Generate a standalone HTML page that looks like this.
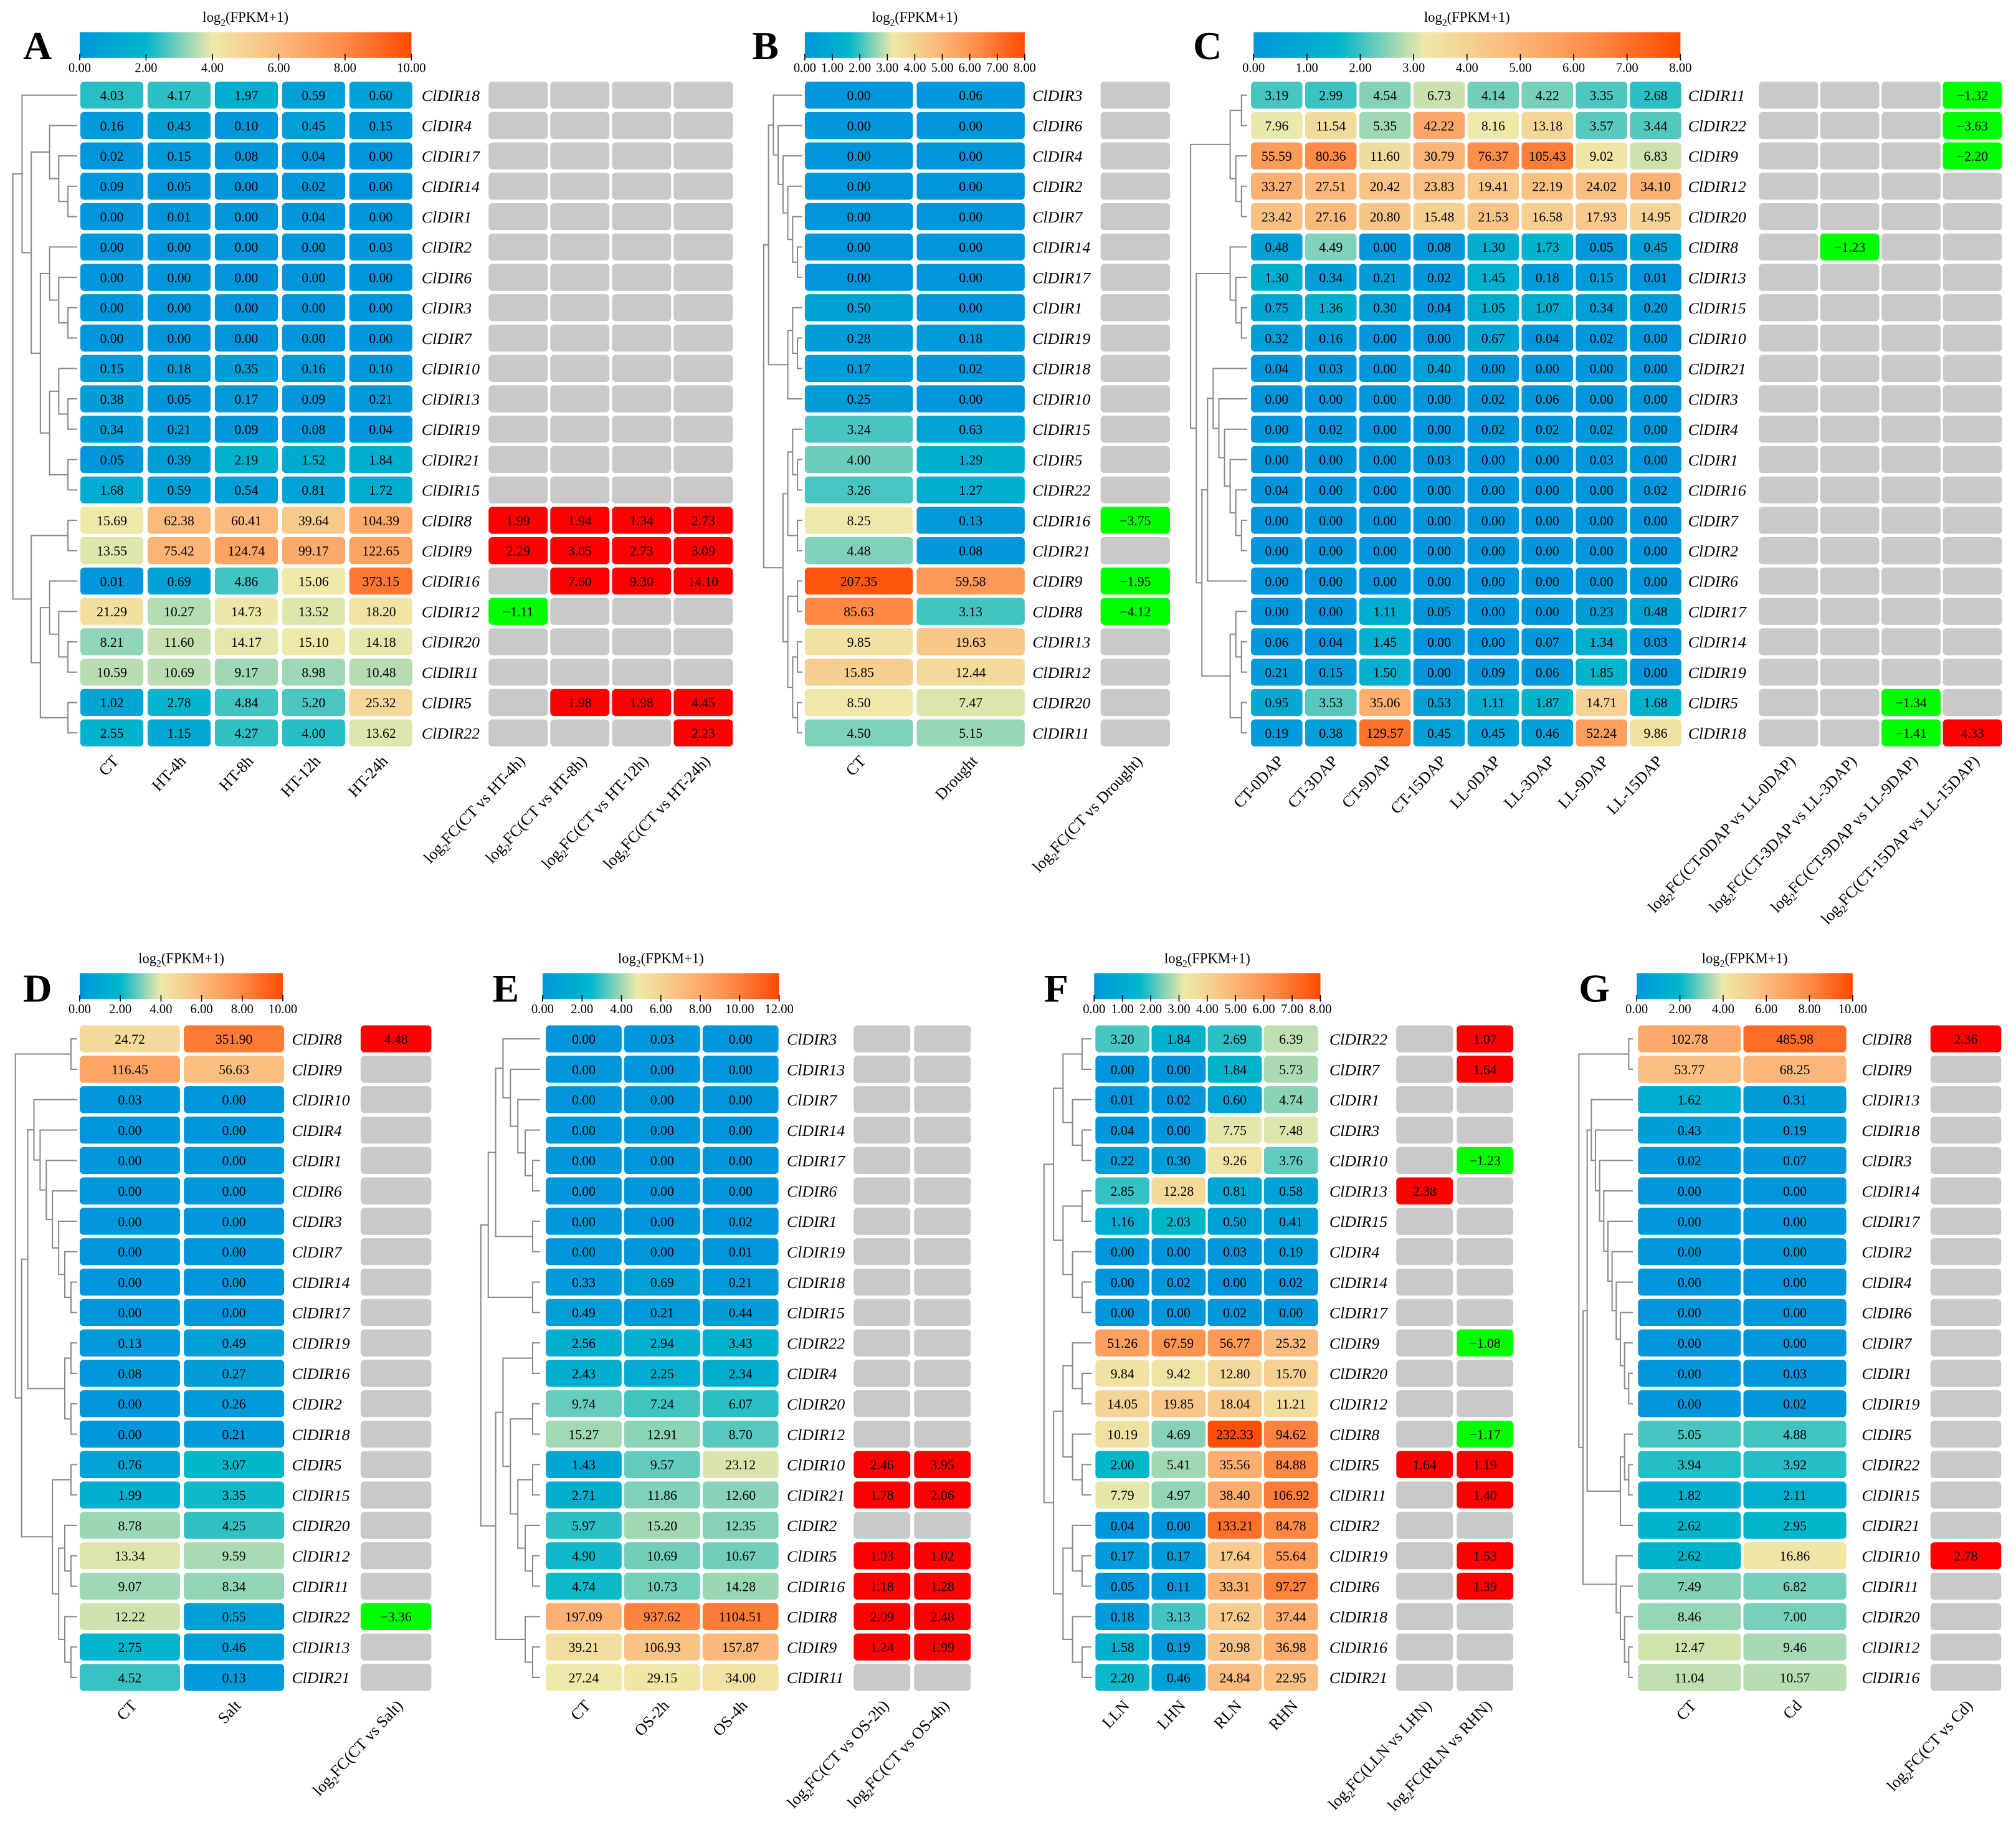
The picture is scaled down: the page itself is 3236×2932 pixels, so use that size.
<!DOCTYPE html>
<html><head><meta charset="utf-8"><style>html,body{margin:0;padding:0;background:#fff}svg{display:block}</style></head>
<body>
<svg id="fig" xmlns="http://www.w3.org/2000/svg" width="3236" height="2932" viewBox="0 0 1568 1421" preserveAspectRatio="none" font-family="'Liberation Serif', serif">
<defs>
<linearGradient id="cmap" x1="0" x2="1" y1="0" y2="0">
<stop offset="0" stop-color="#0096db"/><stop offset="0.2" stop-color="#00b6cb"/><stop offset="0.4" stop-color="#efe9a9"/><stop offset="0.6" stop-color="#fbba7c"/><stop offset="0.8" stop-color="#fe8a46"/><stop offset="1" stop-color="#ff4a00"/>
</linearGradient>
</defs>
</svg>
<script>
// ---------- data ----------
const genesA=["ClDIR18","ClDIR4","ClDIR17","ClDIR14","ClDIR1","ClDIR2","ClDIR6","ClDIR3","ClDIR7","ClDIR10","ClDIR13","ClDIR19","ClDIR21","ClDIR15","ClDIR8","ClDIR9","ClDIR16","ClDIR12","ClDIR20","ClDIR11","ClDIR5","ClDIR22"];
const condsA=["CT","HT-4h","HT-8h","HT-12h","HT-24h"];
const valsA=[[4.03,4.17,1.97,0.59,0.60],[0.16,0.43,0.10,0.45,0.15],[0.02,0.15,0.08,0.04,0],[0.09,0.05,0,0.02,0],[0,0.01,0,0.04,0],[0,0,0,0,0.03],[0,0,0,0,0],[0,0,0,0,0],[0,0,0,0,0],[0.15,0.18,0.35,0.16,0.10],[0.38,0.05,0.17,0.09,0.21],[0.34,0.21,0.09,0.08,0.04],[0.05,0.39,2.19,1.52,1.84],[1.68,0.59,0.54,0.81,1.72],[15.69,62.38,60.41,39.64,104.39],[13.55,75.42,124.74,99.17,122.65],[0.01,0.69,4.86,15.06,373.15],[21.29,10.27,14.73,13.52,18.20],[8.21,11.60,14.17,15.10,14.18],[10.59,10.69,9.17,8.98,10.48],[1.02,2.78,4.84,5.20,25.32],[2.55,1.15,4.27,4.00,13.62]];
const fcLabelsA=["(CT vs HT-4h)","(CT vs HT-8h)","(CT vs HT-12h)","(CT vs HT-24h)"];
const fcA={14:[1.99,1.94,1.34,2.73],15:[2.29,3.05,2.73,3.09],16:[null,7.60,9.30,14.10],17:[-1.11,null,null,null],20:[null,1.98,1.98,4.45],21:[null,null,null,2.23]};

const genesB=["ClDIR3","ClDIR6","ClDIR4","ClDIR2","ClDIR7","ClDIR14","ClDIR17","ClDIR1","ClDIR19","ClDIR18","ClDIR10","ClDIR15","ClDIR5","ClDIR22","ClDIR16","ClDIR21","ClDIR9","ClDIR8","ClDIR13","ClDIR12","ClDIR20","ClDIR11"];
const condsB=["CT","Drought"];
const valsB=[[0,0.06],[0,0],[0,0],[0,0],[0,0],[0,0],[0,0],[0.50,0],[0.28,0.18],[0.17,0.02],[0.25,0],[3.24,0.63],[4.00,1.29],[3.26,1.27],[8.25,0.13],[4.48,0.08],[207.35,59.58],[85.63,3.13],[9.85,19.63],[15.85,12.44],[8.50,7.47],[4.50,5.15]];
const fcLabelsB=["(CT vs Drought)"];
const fcB={14:[-3.75],16:[-1.95],17:[-4.12]};

const genesC=["ClDIR11","ClDIR22","ClDIR9","ClDIR12","ClDIR20","ClDIR8","ClDIR13","ClDIR15","ClDIR10","ClDIR21","ClDIR3","ClDIR4","ClDIR1","ClDIR16","ClDIR7","ClDIR2","ClDIR6","ClDIR17","ClDIR14","ClDIR19","ClDIR5","ClDIR18"];
const condsC=["CT-0DAP","CT-3DAP","CT-9DAP","CT-15DAP","LL-0DAP","LL-3DAP","LL-9DAP","LL-15DAP"];
const valsC=[[3.19,2.99,4.54,6.73,4.14,4.22,3.35,2.68],[7.96,11.54,5.35,42.22,8.16,13.18,3.57,3.44],[55.59,80.36,11.60,30.79,76.37,105.43,9.02,6.83],[33.27,27.51,20.42,23.83,19.41,22.19,24.02,34.10],[23.42,27.16,20.80,15.48,21.53,16.58,17.93,14.95],[0.48,4.49,0,0.08,1.30,1.73,0.05,0.45],[1.30,0.34,0.21,0.02,1.45,0.18,0.15,0.01],[0.75,1.36,0.30,0.04,1.05,1.07,0.34,0.20],[0.32,0.16,0,0,0.67,0.04,0.02,0],[0.04,0.03,0,0.40,0,0,0,0],[0,0,0,0,0.02,0.06,0,0],[0,0.02,0,0,0.02,0.02,0.02,0],[0,0,0,0.03,0,0,0.03,0],[0.04,0,0,0,0,0,0,0.02],[0,0,0,0,0,0,0,0],[0,0,0,0,0,0,0,0],[0,0,0,0,0,0,0,0],[0,0,1.11,0.05,0,0,0.23,0.48],[0.06,0.04,1.45,0,0,0.07,1.34,0.03],[0.21,0.15,1.50,0,0.09,0.06,1.85,0],[0.95,3.53,35.06,0.53,1.11,1.87,14.71,1.68],[0.19,0.38,129.57,0.45,0.45,0.46,52.24,9.86]];
const fcLabelsC=["(CT-0DAP vs LL-0DAP)","(CT-3DAP vs LL-3DAP)","(CT-9DAP vs LL-9DAP)","(CT-15DAP vs LL-15DAP)"];
const fcC={0:[null,null,null,-1.32],1:[null,null,null,-3.63],2:[null,null,null,-2.20],5:[null,-1.23,null,null],20:[null,null,-1.34,null],21:[null,null,-1.41,4.33]};

const genesD=["ClDIR8","ClDIR9","ClDIR10","ClDIR4","ClDIR1","ClDIR6","ClDIR3","ClDIR7","ClDIR14","ClDIR17","ClDIR19","ClDIR16","ClDIR2","ClDIR18","ClDIR5","ClDIR15","ClDIR20","ClDIR12","ClDIR11","ClDIR22","ClDIR13","ClDIR21"];
const condsD=["CT","Salt"];
const valsD=[[24.72,351.90],[116.45,56.63],[0.03,0],[0,0],[0,0],[0,0],[0,0],[0,0],[0,0],[0,0],[0.13,0.49],[0.08,0.27],[0,0.26],[0,0.21],[0.76,3.07],[1.99,3.35],[8.78,4.25],[13.34,9.59],[9.07,8.34],[12.22,0.55],[2.75,0.46],[4.52,0.13]];
const fcLabelsD=["(CT vs Salt)"];
const fcD={0:[4.48],19:[-3.36]};

const genesE=["ClDIR3","ClDIR13","ClDIR7","ClDIR14","ClDIR17","ClDIR6","ClDIR1","ClDIR19","ClDIR18","ClDIR15","ClDIR22","ClDIR4","ClDIR20","ClDIR12","ClDIR10","ClDIR21","ClDIR2","ClDIR5","ClDIR16","ClDIR8","ClDIR9","ClDIR11"];
const condsE=["CT","OS-2h","OS-4h"];
const valsE=[[0,0.03,0],[0,0,0],[0,0,0],[0,0,0],[0,0,0],[0,0,0],[0,0,0.02],[0,0,0.01],[0.33,0.69,0.21],[0.49,0.21,0.44],[2.56,2.94,3.43],[2.43,2.25,2.34],[9.74,7.24,6.07],[15.27,12.91,8.70],[1.43,9.57,23.12],[2.71,11.86,12.60],[5.97,15.20,12.35],[4.90,10.69,10.67],[4.74,10.73,14.28],[197.09,937.62,1104.51],[39.21,106.93,157.87],[27.24,29.15,34.00]];
const fcLabelsE=["(CT vs OS-2h)","(CT vs OS-4h)"];
const fcE={14:[2.46,3.95],15:[1.78,2.06],17:[1.03,1.02],18:[1.18,1.28],19:[2.09,2.48],20:[1.24,1.99]};

const genesF=["ClDIR22","ClDIR7","ClDIR1","ClDIR3","ClDIR10","ClDIR13","ClDIR15","ClDIR4","ClDIR14","ClDIR17","ClDIR9","ClDIR20","ClDIR12","ClDIR8","ClDIR5","ClDIR11","ClDIR2","ClDIR19","ClDIR6","ClDIR18","ClDIR16","ClDIR21"];
const condsF=["LLN","LHN","RLN","RHN"];
const valsF=[[3.20,1.84,2.69,6.39],[0,0,1.84,5.73],[0.01,0.02,0.60,4.74],[0.04,0,7.75,7.48],[0.22,0.30,9.26,3.76],[2.85,12.28,0.81,0.58],[1.16,2.03,0.50,0.41],[0,0,0.03,0.19],[0,0.02,0,0.02],[0,0,0.02,0],[51.26,67.59,56.77,25.32],[9.84,9.42,12.80,15.70],[14.05,19.85,18.04,11.21],[10.19,4.69,232.33,94.62],[2.00,5.41,35.56,84.88],[7.79,4.97,38.40,106.92],[0.04,0,133.21,84.78],[0.17,0.17,17.64,55.64],[0.05,0.11,33.31,97.27],[0.18,3.13,17.62,37.44],[1.58,0.19,20.98,36.98],[2.20,0.46,24.84,22.95]];
const fcLabelsF=["(LLN vs LHN)","(RLN vs RHN)"];
const fcF={0:[null,1.07],1:[null,1.64],4:[null,-1.23],5:[2.38,null],10:[null,-1.08],13:[null,-1.17],14:[1.64,1.19],15:[null,1.40],17:[null,1.53],18:[null,1.39]};

const genesG=["ClDIR8","ClDIR9","ClDIR13","ClDIR18","ClDIR3","ClDIR14","ClDIR17","ClDIR2","ClDIR4","ClDIR6","ClDIR7","ClDIR1","ClDIR19","ClDIR5","ClDIR22","ClDIR15","ClDIR21","ClDIR10","ClDIR11","ClDIR20","ClDIR12","ClDIR16"];
const condsG=["CT","Cd"];
const valsG=[[102.78,485.98],[53.77,68.25],[1.62,0.31],[0.43,0.19],[0.02,0.07],[0,0],[0,0],[0,0],[0,0],[0,0],[0,0],[0,0.03],[0,0.02],[5.05,4.88],[3.94,3.92],[1.82,2.11],[2.62,2.95],[2.62,16.86],[7.49,6.82],[8.46,7.00],[12.47,9.46],[11.04,10.57]];
const fcLabelsG=["(CT vs Cd)"];
const fcG={0:[2.36],17:[2.78]};

const treeA=[[0,[[1,[2,[3,4]]],[[5,[6,[7,8]]],[[9,[10,11]],[12,13]]]]],[[14,15],[[16,[17,[18,19]]],[20,21]]]];
const treeB=[[[0,[1,[2,[3,[4,[5,6]]]]]],[[7,[8,9]],10]],[[[11,[12,13]],[14,15]],[[16,17],[[18,19],[20,21]]]]];
const treeC=[[[0,1],[2,[3,4]]],[[5,[6,[7,8]]],[[[9,[10,[11,[12,[13,[14,15]]]]]],16],[[17,[18,19]],[20,21]]]]];
const treeD=[[0,1],[[[2,[3,[4,[5,[6,[7,[8,9]]]]]]],[[10,11],[12,13]]],[[14,15],[[16,[17,18]],[19,[20,21]]]]]];
const treeE=[[[[0,[1,[2,[3,[4,5]]]]],[6,7]],[8,9]],[[[10,11],[[12,13],[[14,15],[16,[17,18]]]]],[19,[20,21]]]];
const treeF=[[[[0,1],[2,[3,4]]],[[5,6],[7,[8,9]]]],[[[10,[11,12]],[13,[14,15]]],[[16,[17,18]],[19,[20,21]]]]];
const treeG=[[0,1],[[[2,[3,[4,[5,[6,[7,[8,[9,[10,[11,12]]]]]]]]]],[[13,[14,15]],16]],[17,[18,[19,[20,21]]]]]];

// ---------- layout ----------
const NS="http://www.w3.org/2000/svg";
const svg=document.getElementById('fig');
const stops=[[0,[0,150,219]],[0.2,[0,182,203]],[0.4,[239,233,169]],[0.6,[251,186,124]],[0.8,[254,138,70]],[1,[255,74,0]]];
function cmap(t){t=Math.max(0,Math.min(1,t));for(let i=1;i<stops.length;i++){if(t<=stops[i][0]){const a=stops[i-1],b=stops[i];const f=(t-a[0])/(b[0]-a[0]);const c=a[1].map((v,k)=>Math.round(v+(b[1][k]-v)*f));return `rgb(${c[0]},${c[1]},${c[2]})`;}}return 'rgb(255,74,0)';}
function el(tag,attrs,parent){const e=document.createElementNS(NS,tag);for(const k in attrs)e.setAttribute(k,attrs[k]);(parent||svg).appendChild(e);return e;}

const panels=[
 {id:"A",genes:genesA,conds:condsA,vals:valsA,fcL:fcLabelsA,fc:fcA,tree:treeA,max:10,step:2,cb:[62,320],top:true,cx0:87,cdx:52.3,cw:49,lab:328,fx0:403,fdx:48,fw:46,dl:10,dr:60,letter:[18,46]},
 {id:"B",genes:genesB,conds:condsB,vals:valsB,fcL:fcLabelsB,fc:fcB,tree:treeB,max:8,step:1,cb:[626,797],top:true,cx0:668,cdx:87,cw:84,lab:803,fx0:883,fdx:48,fw:54,dl:594,dr:624,letter:[585,46]},
 {id:"C",genes:genesC,conds:condsC,vals:valsC,fcL:fcLabelsC,fc:fcC,tree:treeC,max:8,step:1,cb:[975,1307],top:true,cx0:993,cdx:42.1,cw:40,lab:1313,fx0:1391,fdx:47.7,fw:46,dl:926,dr:970,letter:[928,46]},
 {id:"D",genes:genesD,conds:condsD,vals:valsD,fcL:fcLabelsD,fc:fcD,tree:treeD,max:10,step:2,cb:[62,220],top:false,cx0:101,cdx:81,cw:78,lab:227,fx0:308,fdx:48,fw:55,dl:12,dr:60,letter:[18,779]},
 {id:"E",genes:genesE,conds:condsE,vals:valsE,fcL:fcLabelsE,fc:fcE,tree:treeE,max:12,step:2,cb:[422,606],top:false,cx0:454,cdx:61,cw:59,lab:612,fx0:686,fdx:47,fw:44,dl:374,dr:420,letter:[383,779]},
 {id:"F",genes:genesF,conds:condsF,vals:valsF,fcL:fcLabelsF,fc:fcF,tree:treeF,max:8,step:1,cb:[851,1027],top:false,cx0:873,cdx:43.7,cw:42,lab:1034,fx0:1108,fdx:47,fw:44,dl:812,dr:849,letter:[812,779]},
 {id:"G",genes:genesG,conds:condsG,vals:valsG,fcL:fcLabelsG,fc:fcG,tree:treeG,max:10,step:2,cb:[1273,1441],top:false,cx0:1314,cdx:82,cw:80,lab:1448,fx0:1529,fdx:48,fw:55,dl:1228,dr:1270,letter:[1228,779]}
];
const fmt=v=>v.toFixed(2);
const ANG=-47;

panels.forEach(p=>{
 const g=el('g',{});
 
 
 const cbY=p.top?25:757, row0=p.top?74:808, rstep=p.top?23.62:23.65, rh=21;
 const yOf=i=>row0+i*rstep;
 const L=el('text',{x:p.letter[0],y:p.letter[1],'font-size':31,'font-weight':'bold'},g);L.textContent=p.id;
 
 
 const cbw=p.cb[1]-p.cb[0];
 const cbr=el('rect',{x:p.cb[0],y:cbY,width:cbw,height:20,fill:'url(#cmap)'},g);
 
 
 const tt=el('text',{x:p.cb[0]+cbw/2,y:cbY-8,'font-size':11,'text-anchor':'middle'},g);
 
 
 tt.innerHTML='log<tspan font-size="7.5" dy="3">2</tspan><tspan dy="-3">(FPKM+1)</tspan>';
 for(let v=0;v<=p.max+1e-9;v+=p.step){
  const x=p.cb[0]+cbw*v/p.max;
  el('line',{x1:x,x2:x,y1:cbY+17,y2:cbY+22,stroke:'#000','stroke-width':0.8},g);
  const t=el('text',{x:x,y:cbY+31,'font-size':10,'text-anchor':'middle'},g);t.textContent=v.toFixed(2);
  
  
 }
 let maxH=0;
 function lay(n){if(typeof n==='number')return {y:yOf(n),h:0};const a=lay(n[0]),b=lay(n[1]);const r={y:(a.y+b.y)/2,h:1+Math.max(a.h,b.h),a:a,b:b};maxH=Math.max(maxH,r.h);return r;}
 const root=lay(p.tree);
 const unit=(p.dr-p.dl)/maxH;
 const X=h=>p.dr-h*unit;
 function draw(n){if(!n.a)return;const x=X(n.h);
  const pth=el('path',{d:`M${X(n.a.h)},${n.a.y}H${x}V${n.b.y}H${X(n.b.h)}`,fill:'none',stroke:'#8a8a8a','stroke-width':1},g);
  
  
  draw(n.a);draw(n.b);}
 draw(root);
 p.genes.forEach((gn,i)=>{
  const y=yOf(i);
  p.conds.forEach((c,j)=>{
   const v=p.vals[i][j];const cx=p.cx0+j*p.cdx;
   const r=el('rect',{x:cx-p.cw/2,y:y-rh/2,width:p.cw,height:rh,rx:3,fill:cmap(Math.log2(v+1)/p.max)},g);
   
   
   const t=el('text',{x:cx,y:y+3.8,'font-size':10.5,'text-anchor':'middle'},g);t.textContent=fmt(v);
   
   
  });
  const lt=el('text',{x:p.lab,y:y+4.5,'font-size':12.5,'font-style':'italic'},g);lt.textContent=gn;
  
  
  p.fcL.forEach((f,k)=>{
   const fv=p.fc[i]?p.fc[i][k]:null;const cx=p.fx0+k*p.fdx;
   const col=fv==null?'#c8c9c9':(fv>0?'#ff0000':'#00ff00');
   const r=el('rect',{x:cx-p.fw/2,y:y-rh/2,width:p.fw,height:rh,rx:3,fill:col},g);
   
   
   if(fv!=null){const t=el('text',{x:cx,y:y+3.8,'font-size':10.5,'text-anchor':'middle'},g);t.textContent=(fv<0?'\u2212'+Math.abs(fv).toFixed(2):fv.toFixed(2));
    
    }
  });
 });
 const ly=yOf(p.genes.length-1)+rh/2+12;
 p.conds.forEach((c,j)=>{
  const cx=p.cx0+j*p.cdx+6;
  const t=el('text',{x:cx,y:ly,'font-size':12.5,'text-anchor':'end',transform:`rotate(${ANG} ${cx} ${ly})`},g);t.textContent=c;
  
  
 });
 p.fcL.forEach((f,k)=>{
  const cx=p.fx0+k*p.fdx+6;
  const t=el('text',{x:cx,y:ly,'font-size':12.5,'text-anchor':'end',transform:`rotate(${ANG} ${cx} ${ly})`},g);
  t.innerHTML='log<tspan font-size="8" dy="3">2</tspan><tspan dy="-3">FC'+f+'</tspan>';
  
  
 });
});
</script>
</body></html>
